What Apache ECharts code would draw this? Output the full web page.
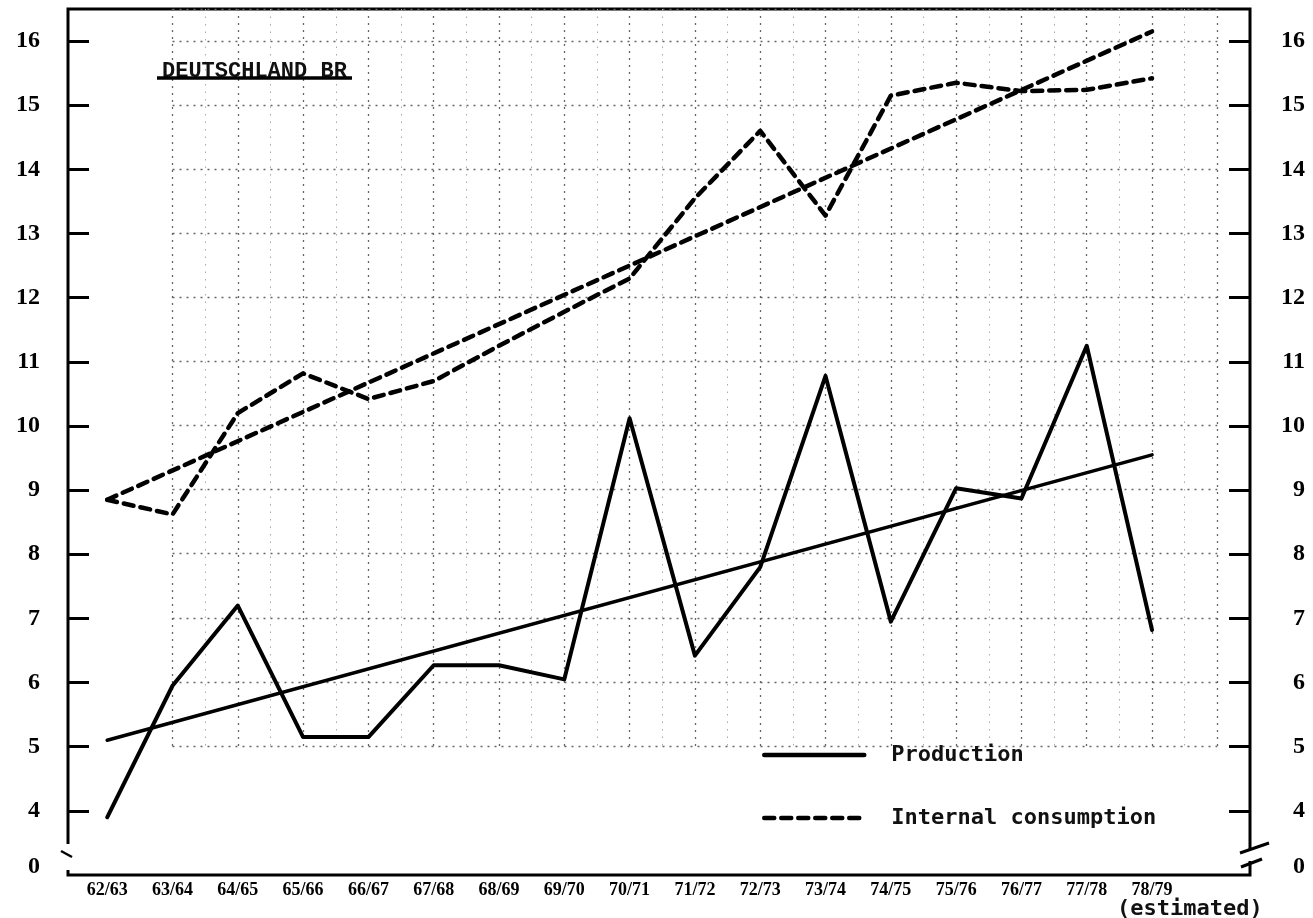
<!DOCTYPE html>
<html>
<head>
<meta charset="utf-8">
<title>Deutschland BR</title>
<script src="https://cdn.jsdelivr.net/npm/echarts@6.0.0/dist/echarts.min.js"></script>
<style>
  html, body { margin: 0; padding: 0; background: #fff; }
  #chart { width: 1313px; height: 918px; }
</style>
</head>
<body>
<div id="chart"></div>
<script>
var categories = ['62/63', '63/64', '64/65', '65/66', '66/67', '67/68', '68/69', '69/70', '70/71',
    '71/72', '72/73', '73/74', '74/75', '75/76', '76/77', '77/78', '78/79'];
var production = [3.9, 5.95, 7.2, 5.15, 5.15, 6.27, 6.27, 6.05, 10.12, 6.42, 7.8, 10.78, 6.95, 9.03, 8.87, 11.25, 6.82];
var consumption = [8.85, 8.62, 10.2, 10.82, 10.42, 10.7, 11.25, 11.78, 12.3, 13.55, 14.6, 13.28, 15.15, 15.35, 15.22, 15.24, 15.42];
// straight trend lines, first and last season
var productionTrend = [5.1, 9.55];
var consumptionTrend = [8.85, 16.15];
var yTicks = [4, 5, 6, 7, 8, 9, 10, 11, 12, 13, 14, 15, 16];
var breakValue = 3; // axis is broken here, labelled 0

var FONT_NUM = '"Liberation Serif", "DejaVu Serif", serif';
var FONT_TYPE = '"DejaVu Sans Mono", "Liberation Mono", monospace';
var DASH = [10, 7];

function pairs(values) {
    return values.map(function (v, i) { return [i, v]; });
}

function trendPairs(ends) {
    return [[0, ends[0]], [categories.length - 1, ends[1]]];
}

function lineSeries(name, data, width, dashed) {
    return {
        type: 'line',
        name: name,
        data: data,
        xAxisIndex: 0,
        yAxisIndex: 0,
        symbol: 'none',
        silent: true,
        z: 5,
        itemStyle: { color: '#000' },
        lineStyle: {
            color: '#000',
            width: width,
            type: dashed ? DASH : 'solid',
            cap: 'round',
            join: 'round'
        }
    };
}

function yAxisMain(position, margin) {
    return {
        type: 'value',
        gridIndex: 0,
        position: position,
        min: breakValue,
        max: 16.5,
        interval: 1,
        axisLine: { show: false, onZero: false },
        splitLine: { show: false },
        axisTick: {
            show: true,
            inside: true,
            length: 21,
            customValues: yTicks,
            lineStyle: { color: '#000', width: 3 }
        },
        axisLabel: {
            customValues: [breakValue].concat(yTicks),
            margin: margin,
            align: 'right',
            color: '#000',
            fontFamily: FONT_NUM,
            fontWeight: 'bold',
            fontSize: 24,
            formatter: function (v) {
                return v === breakValue ? '{z|0}' : String(v);
            },
            rich: {
                z: { padding: [0, 0, 16, 0], fontFamily: FONT_NUM, fontWeight: 'bold', fontSize: 24, color: '#000' }
            }
        }
    };
}

function legendItem(name, top, lift, dashed) {
    return {
        data: [name],
        orient: 'vertical',
        left: 757,
        top: top,
        selectedMode: false,
        itemWidth: 100,
        itemHeight: 14,
        itemStyle: { opacity: 0 },
        lineStyle: { color: '#000', width: 4.5, type: dashed ? DASH : 'solid', cap: 'round' },
        textStyle: {
            fontFamily: FONT_TYPE,
            fontWeight: 'bold',
            fontSize: 22,
            lineHeight: 24,
            color: '#111',
            padding: [0, 0, lift, 22]
        }
    };
}

var option = {
    backgroundColor: '#fff',
    animation: false,
    title: {
        text: 'DEUTSCHLAND BR',
        left: 157,
        top: 55,
        textStyle: {
            fontFamily: '"Liberation Mono", monospace',
            fontWeight: 'bold',
            fontSize: 22,
            color: '#111'
        }
    },
    legend: [
        legendItem('Production', 733, 10, false),
        legendItem('Internal consumption', 788, 26, true)
    ],
    grid: [
        { left: 68, right: 63, top: 9, bottom: 43, show: true, borderColor: '#000', borderWidth: 3, outerBoundsMode: 'none' },
        // graph paper behind the curves
        { left: 172.5, right: 95.7, top: 9, bottom: 172, outerBoundsMode: 'none' }
    ],
    xAxis: [
        {
            type: 'value',
            gridIndex: 0,
            min: -0.6,
            max: 17.5,
            axisLine: { show: false, onZero: false },
            axisTick: { show: false },
            splitLine: { show: false },
            axisLabel: {
                customValues: categories.map(function (c, i) { return i; }),
                formatter: function (v) { return categories[Math.round(v)]; },
                margin: 6,
                color: '#000',
                fontFamily: FONT_NUM,
                fontWeight: 'bold',
                fontSize: 18
            }
        },
        {
            type: 'value',
            gridIndex: 1,
            min: 1,
            max: 17,
            interval: 1,
            axisLine: { show: false, onZero: false },
            axisTick: { show: false },
            axisLabel: { show: false },
            splitLine: { show: true, lineStyle: { color: '#666', width: 1.3, type: [2, 5] } },
            minorTick: { show: false, splitNumber: 2 },
            minorSplitLine: { show: true, lineStyle: { color: '#aaa', width: 1, type: [1.5, 6] } }
        }
    ],
    yAxis: [
        yAxisMain('left', 28),
        yAxisMain('right', 55),
        {
            type: 'value',
            gridIndex: 1,
            min: 5,
            max: 16.5,
            interval: 1,
            axisLine: { show: false, onZero: false },
            axisTick: { show: false },
            axisLabel: { show: false },
            splitLine: { show: true, lineStyle: { color: '#666', width: 1.3, type: [2, 5] } }
        }
    ],
    series: [
        lineSeries('Production', pairs(production), 4, false),
        lineSeries('Internal consumption', pairs(consumption), 4.5, true),
        lineSeries('Production trend', trendPairs(productionTrend), 3.5, false),
        lineSeries('Consumption trend', trendPairs(consumptionTrend), 4.5, true)
    ],
    graphic: [
        // underline of the title
        { type: 'line', z: 100, shape: { x1: 157, y1: 78, x2: 352, y2: 78 }, style: { stroke: '#000', lineWidth: 3.5 } },
        // axis breaks
        { type: 'rect', z: 100, shape: { x: 62, y: 844, width: 12, height: 26 }, style: { fill: '#fff' } },
        { type: 'line', z: 101, shape: { x1: 61, y1: 851, x2: 72, y2: 857 }, style: { stroke: '#000', lineWidth: 2.5 } },
        { type: 'rect', z: 100, shape: { x: 1244, y: 849, width: 12, height: 12 }, style: { fill: '#fff' } },
        { type: 'line', z: 101, shape: { x1: 1240, y1: 853, x2: 1269, y2: 843 }, style: { stroke: '#000', lineWidth: 3 } },
        { type: 'line', z: 101, shape: { x1: 1241, y1: 867, x2: 1262, y2: 859 }, style: { stroke: '#000', lineWidth: 3 } },
        {
            type: 'text', z: 100, left: 1117, top: 898,
            style: { text: '(estimated)', fontFamily: FONT_TYPE, fontWeight: 'bold', fontSize: 22, fill: '#111' }
        }
    ]
};

var chart = echarts.init(document.getElementById('chart'));
chart.setOption(option);
</script>
</body>
</html>
